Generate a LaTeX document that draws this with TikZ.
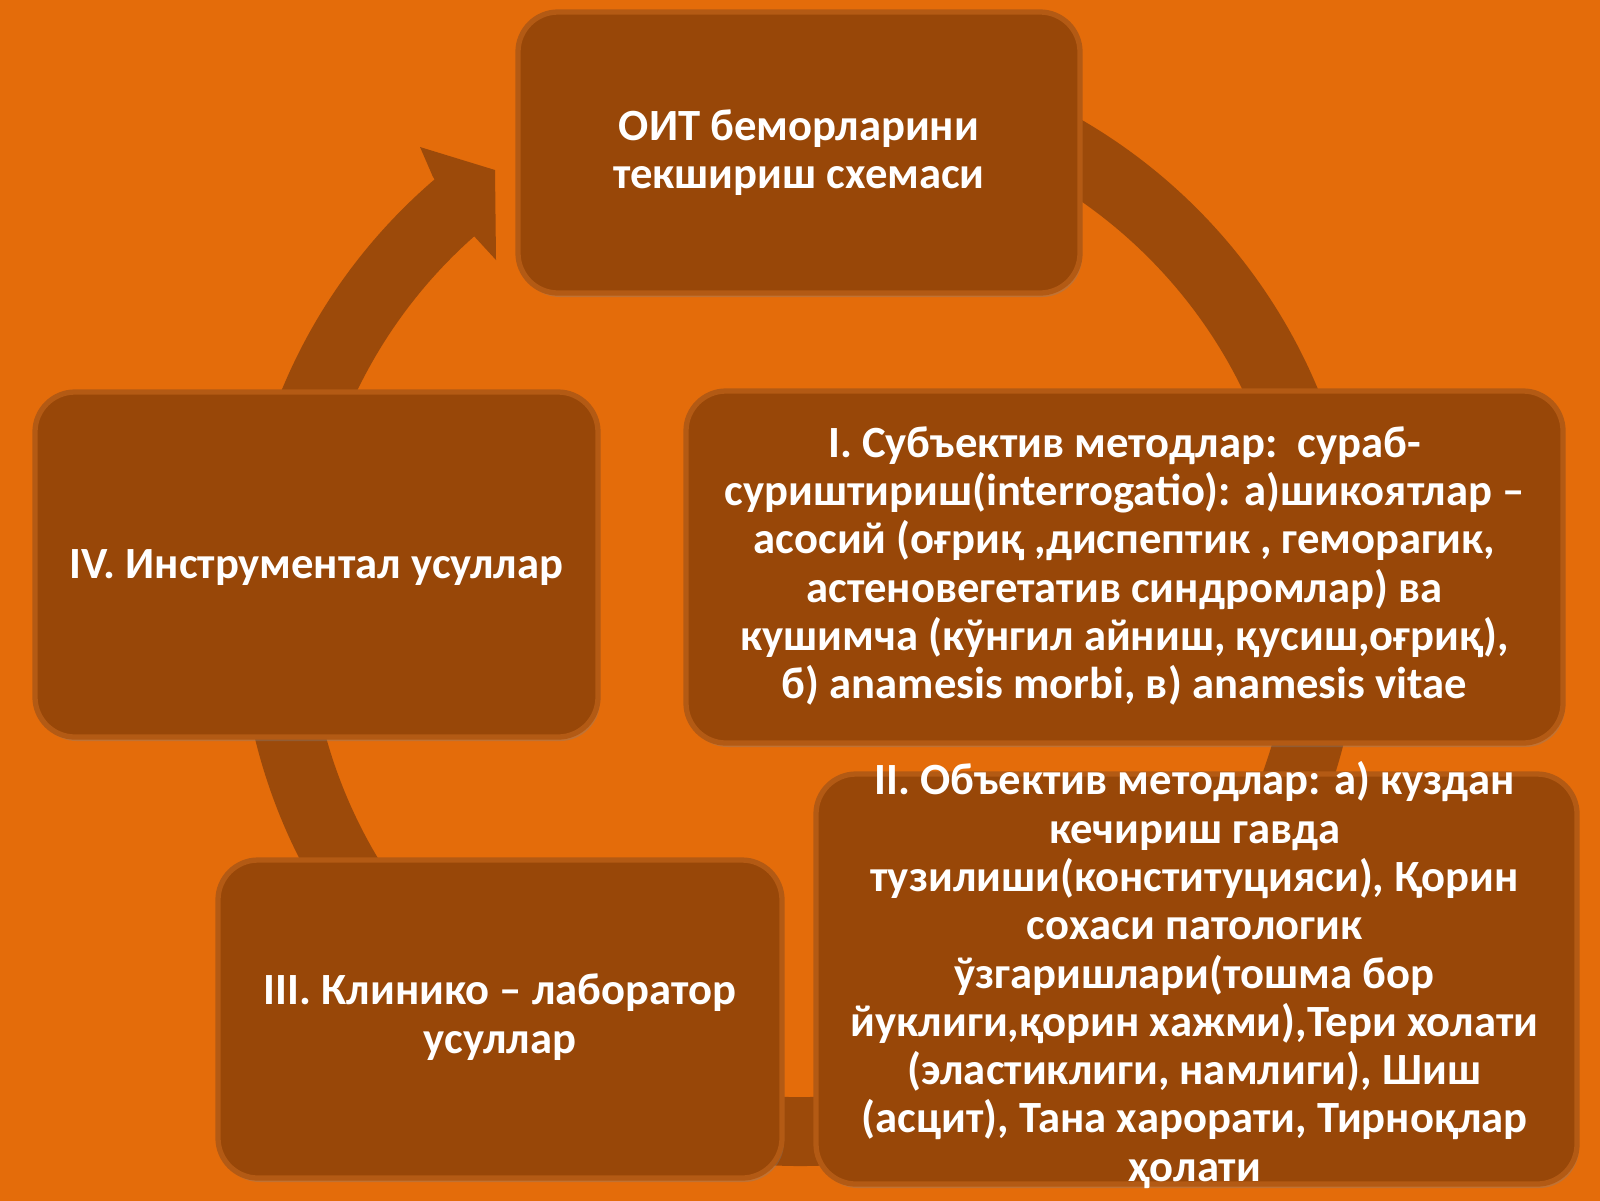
\documentclass[tikz,border=0pt]{standalone}
\usepackage{fontspec}
\setmainfont{Carlito}
\usetikzlibrary{shadows}
\definecolor{bgorange}{HTML}{E46C0A}
\definecolor{boxbrown}{HTML}{984708}
\definecolor{boxrim}{HTML}{B35A14}
\definecolor{ringbrown}{HTML}{9C4A0A}
\tikzset{
	stagebox/.style={draw=boxrim,line width=1.5pt,fill=boxbrown,rounded corners=0.4cm,inner sep=0,outer sep=0,drop shadow={shadow xshift=0.02cm,shadow yshift=-0.04cm,opacity=0.35}},
	stagetext/.style={text=white,align=center,font=\bfseries\fontsize{12.7}{13.75}\selectfont,inner sep=0}
}

\begin{document}
\begin{tikzpicture}
	\useasboundingbox (0,0) rectangle (16,-12);
	\fill[bgorange] (-0.2,0.2) rectangle (16.2,-12.2);
	% circular arrow behind the boxes
	\begin{scope}[shift={(8.0,-6.05)}]
		\fill[ringbrown] (130:5.61) arc[start angle=130,end angle=460,radius=5.61] -- (460:4.92) arc[start angle=460,end angle=130,radius=4.92] -- cycle;
	\end{scope}
	\fill[ringbrown] (4.20,-1.47) -- (4.95,-1.70) -- (4.96,-2.60) -- (4.73,-2.35) -- (4.33,-1.77) -- cycle;
	\node[stagebox,minimum width=5.62cm,minimum height=2.81cm] (0) at (7.99,-1.525) {};
	\node[stagebox,minimum width=8.77cm,minimum height=3.52cm] (1) at (11.245,-5.67) {};
	\node[stagebox,minimum width=7.61cm,minimum height=4.10cm] (2) at (11.965,-9.79) {};
	\node[stagebox,minimum width=5.64cm,minimum height=3.18cm] (3) at (5.00,-10.19) {};
	\node[stagebox,minimum width=5.63cm,minimum height=3.45cm] (4) at (3.165,-5.645) {};
	\node[stagetext] (t0) at (0.center) {ОИТ беморларини\\текшириш схемаси};
	\node[stagetext] (t1) at ([yshift=0.01cm]1.center) {I. Субъектив методлар:\ \ сураб-\\суриштириш(interrogatio): а)шикоятлар –\\асосий (оғриқ ,диспептик , геморагик,\\астеновегетатив синдромлар) ва\\кушимча (кўнгил айниш, қусиш,оғриқ),\\б) anamesis morbi, в) anamesis vitae};
	\node[stagetext] (t2) at ([yshift=0.04cm,xshift=-0.02cm]2.center) {II. Объектив методлар: а) куздан\\кечириш гавда\\тузилиши(конституцияси), Қорин\\сохаси патологик\\ўзгаришлари(тошма бор\\йуклиги,қорин хажми),Тери холати\\(эластиклиги, намлиги), Шиш\\(асцит), Тана харорати, Тирноқлар\\ҳолати};
	\node[stagetext] (t3) at ([yshift=0.02cm]3.center) {III. Клинико – лаборатор\\усуллар};
	\node[stagetext] (t4) at ([yshift=-0.03cm]4.center) {IV. Инструментал усуллар};
\end{tikzpicture}
\end{document}
